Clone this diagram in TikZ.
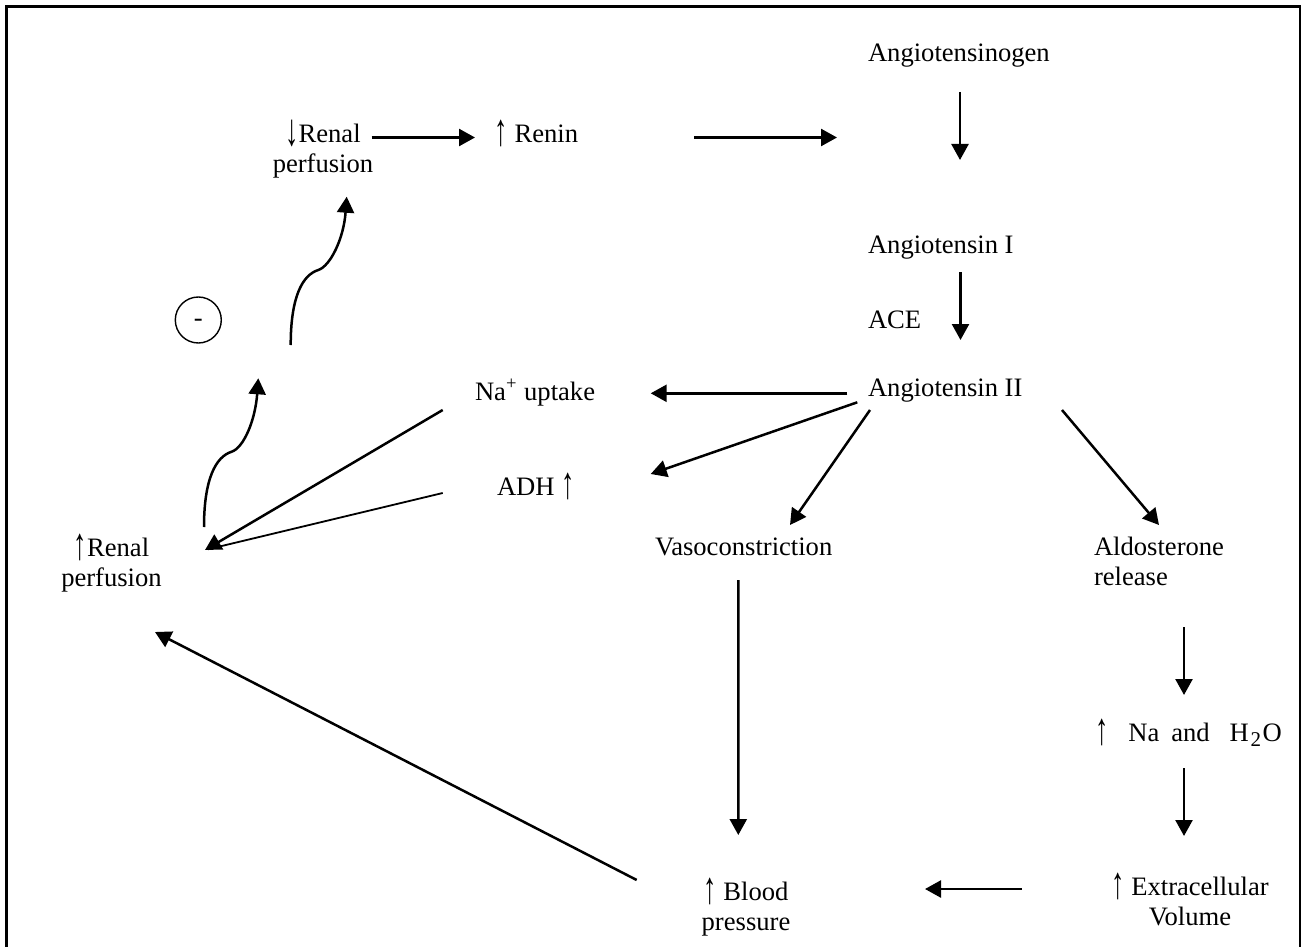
\documentclass[tikz,border=0pt]{standalone}
\usepackage{fontspec}
\usepackage{graphicx}
\setmainfont{Liberation Serif}
\usetikzlibrary{arrows.meta}
\newcommand{\uarr}{\raisebox{-0.12em}{\scalebox{1}[1.7]{↑}}}
\newcommand{\darr}{\raisebox{-0.12em}{\scalebox{1}[1.7]{↓}}}
\begin{document}
\begin{tikzpicture}[x=0.5pt,y=-0.5pt,
  every node/.style={font=\fontsize{13.3pt}{15pt}\selectfont, inner sep=0pt, outer sep=0pt},
  lbl/.style={anchor=base west},
  clbl/.style={anchor=base},
  arr/.style={-{Triangle[length=8pt,width=8.5pt]}, line width=1.25pt},
  thinln/.style={line width=0.9pt, shorten >=1.5pt},
  frame/.style={line width=1.25pt}]
\useasboundingbox (0,0) rectangle (1307,947);
\draw[frame] (6.7,947) -- (6.7,6.5) -- (1300,6.5) -- (1300,947);

% nodes
\node[lbl] (angen) at (868,62) {Angiotensinogen};
\node[lbl] (ang1) at (868,253) {Angiotensin I};
\node[lbl] (ace) at (868,328) {ACE};
\node[lbl] (ang2) at (868,396) {Angiotensin II};
\node[clbl] (renalD1) at (323,142) {\darr Renal};
\node[clbl] (renalD2) at (323,172) {perfusion};
\node[lbl] (renin) at (494.6,142) {\uarr\ Renin};
\node[lbl] (na) at (475,400) {Na\textsuperscript{+} uptake};
\node[lbl] (adh) at (497,495) {ADH \uarr};
\node[lbl] (vaso) at (655,555) {Vasoconstriction};
\node[lbl] (aldo1) at (1094,555) {Aldosterone};
\node[lbl] (aldo2) at (1094,585) {release};
\node[clbl] (renalU1) at (111.5,556) {\uarr Renal};
\node[clbl] (renalU2) at (111.5,586) {perfusion};
\node[lbl] (naw) at (1095,741) {\uarr\hspace{10pt}Na\hspace{6pt}and\hspace{10pt}H\hspace{0.8pt}\raisebox{-0.22em}{\fontsize{10.5pt}{10.5pt}\selectfont 2}\hspace{0.8pt}O};
\node[clbl] (ecv1) at (1190,895) {\uarr\ Extracellular};
\node[clbl] (ecv2) at (1190,925) {Volume};
\node[clbl] (bp1) at (746,900) {\uarr\ Blood};
\node[clbl] (bp2) at (746,930) {pressure};
\node[circle, draw, line width=0.7pt, minimum size=23pt] (minus) at (198.3,320) {\smash{\raisebox{-3.2pt}{-}}};

% free ends
\coordinate (reninact) at (837,137.5);
\coordinate (fb1) at ([shift={(60,58.3)}]minus.center);
\coordinate (fb2) at ([shift={(92.4,25)}]minus.center);

% connectors
\draw[arr] ([shift={(48.7,-4.5)}]renalD1.base) -- ([shift={(-19.6,-4.5)}]renin.base west);
\draw[arr] ([shift={(199.4,-4.5)}]renin.base west) -- (reninact);
\draw[arr] ([shift={(92,30)}]angen.base west) -- ([shift={(92,-93)}]ang1.base west);
\draw[arr] ([shift={(92.5,19)}]ang1.base west) -- ([shift={(92.5,-56)}]ang2.base west);
\draw[arr] ([shift={(-20.7,-2.7)}]ang2.base west) -- ([shift={(175.7,-6.7)}]na.base west);
\draw[arr] ([shift={(-10.7,6.3)}]ang2.base west) -- ([shift={(153.7,-21)}]adh.base west);
\draw[arr] ([shift={(2,14)}]ang2.base west) -- ([shift={(135,-30)}]vaso.base west);
\draw[arr] ([shift={(194,14)}]ang2.base west) -- ([shift={(65,-30)}]aldo1.base west);
\draw[arr] ([shift={(90,42)}]aldo2.base west) -- ([shift={(89,-46)}]naw.base west);
\draw[arr] ([shift={(89,27)}]naw.base west) -- ([shift={(-6,-59)}]ecv1.base);
\draw[arr] ([shift={(-168.3,-6)}]ecv1.base) -- ([shift={(179,-11)}]bp1.base);
\draw[arr] ([shift={(83.3,25)}]vaso.base west) -- ([shift={(-7.7,-65)}]bp1.base);
\draw[arr] ([shift={(-109.3,-20)}]bp1.base) -- ([shift={(43.5,46)}]renalU2.base);
\draw[arr] ([shift={(-32.3,10)}]na.base west) -- ([shift={(93.5,-6)}]renalU1.base);
\draw[thinln] ([shift={(-54.3,-2)}]adh.base west) -- ([shift={(93.5,-6)}]renalU1.base);

% feedback squiggles
\draw[arr] ([shift={(92.5,-29)}]renalU1.base)
  .. controls +(0,-48) and +(-16,5) .. ([shift={(120.2,-104.3)}]renalU1.base)
  .. controls +(12,-4) and +(-3,42) .. (fb1);
\draw[arr] (fb2)
  .. controls +(0,-48) and +(-16,5) .. ([shift={(-4.7,98)}]renalD2.base)
  .. controls +(12,-4) and +(-3,42) .. ([shift={(23.7,24.7)}]renalD2.base);
\end{tikzpicture}
\end{document}
